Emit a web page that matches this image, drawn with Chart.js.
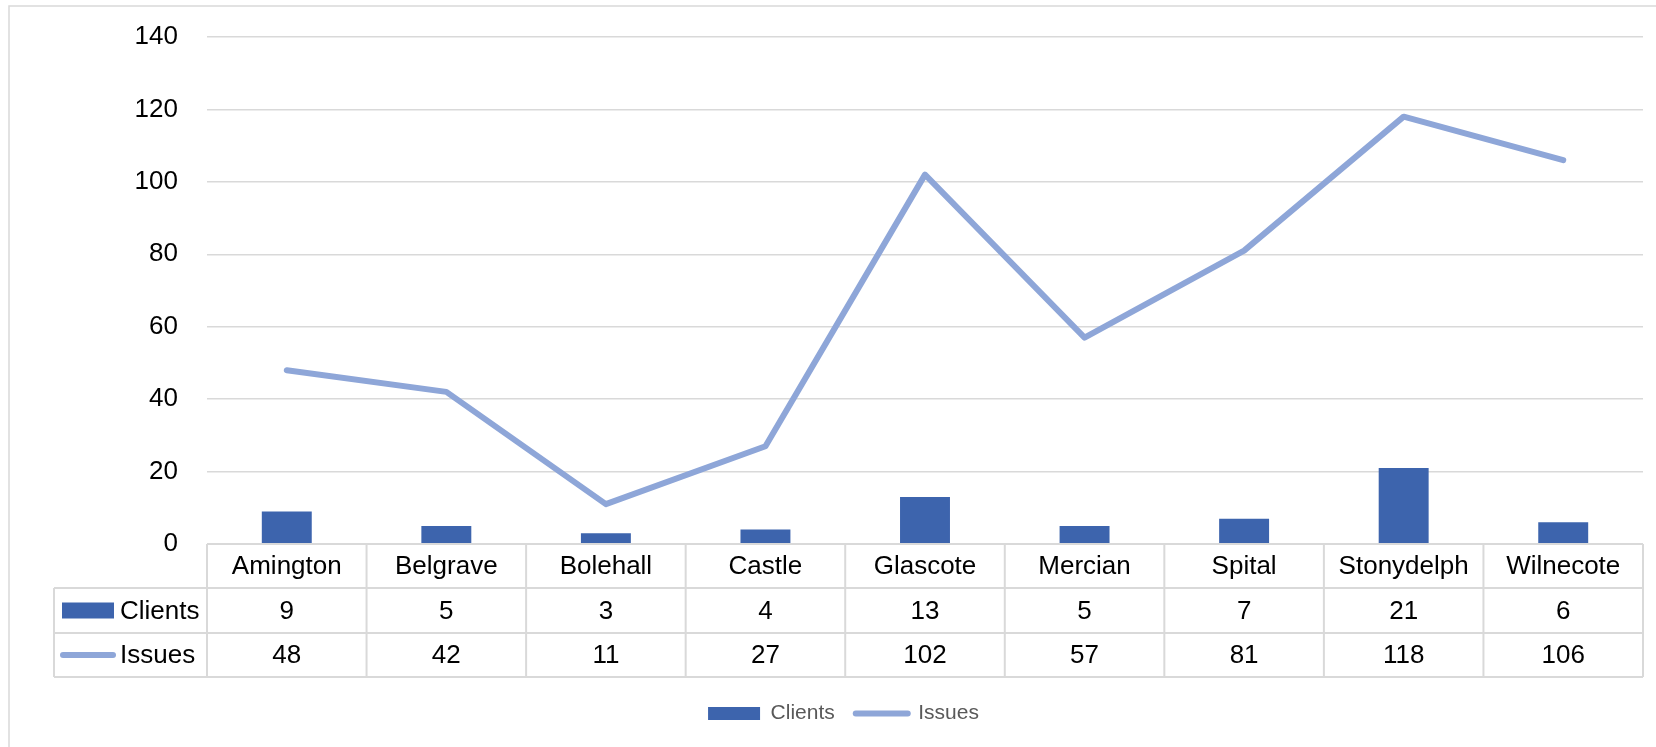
<!DOCTYPE html>
<html>
<head>
<meta charset="utf-8">
<script src="https://cdn.jsdelivr.net/npm/chart.js@4/dist/chart.umd.min.js"></script>
<style>
  body { margin: 0; background: #fff; }
</style>
</head>
<body>
<canvas id="chart" width="1656" height="747"></canvas>
<script>
const labels = ['Amington', 'Belgrave', 'Bolehall', 'Castle', 'Glascote', 'Mercian', 'Spital', 'Stonydelph', 'Wilnecote'];
const clients = [9, 5, 3, 4, 13, 5, 7, 21, 6];
const issues = [48, 42, 11, 27, 102, 57, 81, 118, 106];
const yTicks = [0, 20, 40, 60, 80, 100, 120, 140];

const barColor = '#3D64AD';
const lineColor = '#8EA6D8';
const gridColor = '#D9D9D9';
const fontFamily = "'Liberation Sans', Arial, sans-serif";

// outer frame, like the Excel chart border
const framePlugin = {
    id: 'frame',
    beforeDraw(chart) {
        const ctx = chart.ctx;
        ctx.save();
        ctx.fillStyle = '#fff';
        ctx.fillRect(0, 0, chart.width, chart.height);
        ctx.strokeStyle = gridColor;
        ctx.lineWidth = 1.5;
        ctx.strokeRect(9, 6, chart.width + 20, chart.height + 20);
        ctx.restore();
    },
    // legend sits a bit right of the canvas centre in the original
    afterLayout(chart) {
        chart.legend.left += 22;
        chart.legend.right += 22;
    }
};

// data table under the plot
const tablePlugin = {
    id: 'dataTable',
    afterDraw(chart) {
        const ctx = chart.ctx;
        const area = chart.chartArea;
        const x = chart.scales.x;
        const colW = (area.right - area.left) / labels.length;
        const top = area.bottom;
        const rowH = [44, 45, 44];
        const legendLeft = 54;
        const y1 = top + rowH[0];
        const y2 = y1 + rowH[1];
        const y3 = y2 + rowH[2];

        ctx.save();
        ctx.strokeStyle = gridColor;
        ctx.lineWidth = 2;
        ctx.beginPath();
        // horizontal lines
        ctx.moveTo(area.left, top); ctx.lineTo(area.right, top);
        ctx.moveTo(legendLeft, y1); ctx.lineTo(area.right, y1);
        ctx.moveTo(legendLeft, y2); ctx.lineTo(area.right, y2);
        ctx.moveTo(legendLeft, y3); ctx.lineTo(area.right, y3);
        // vertical lines
        ctx.moveTo(legendLeft, y1); ctx.lineTo(legendLeft, y3);
        for (let i = 0; i <= labels.length; i++) {
            const px = area.left + i * colW;
            ctx.moveTo(px, top); ctx.lineTo(px, y3);
        }
        ctx.stroke();

        ctx.font = '26px ' + fontFamily;
        ctx.fillStyle = '#000';
        ctx.textAlign = 'center';
        ctx.textBaseline = 'middle';
        labels.forEach((lab, i) => {
            const cx = x.getPixelForValue(i);
            ctx.fillText(lab, cx, top + rowH[0] / 2 + 1);
            ctx.fillText(String(clients[i]), cx, y1 + rowH[1] / 2 + 1);
            ctx.fillText(String(issues[i]), cx, y2 + rowH[2] / 2 + 1);
        });

        // series keys
        ctx.fillStyle = barColor;
        ctx.fillRect(62, y1 + rowH[1] / 2 - 8, 52, 16);
        ctx.strokeStyle = lineColor;
        ctx.lineWidth = 6;
        ctx.lineCap = 'round';
        ctx.beginPath();
        ctx.moveTo(63, y2 + rowH[2] / 2);
        ctx.lineTo(113, y2 + rowH[2] / 2);
        ctx.stroke();

        ctx.fillStyle = '#000';
        ctx.textAlign = 'left';
        ctx.fillText('Clients', 120, y1 + rowH[1] / 2 + 1);
        ctx.fillText('Issues', 120, y2 + rowH[2] / 2 + 1);
        ctx.restore();
    }
};

const data = {
    labels: labels,
    datasets: [{
        type: 'bar',
        label: 'Clients',
        data: clients,
        backgroundColor: barColor,
        borderWidth: 0,
        barPercentage: 0.313,
        categoryPercentage: 1,
        pointStyle: 'rect',
        order: 2
    }, {
        type: 'line',
        label: 'Issues',
        data: issues,
        borderColor: lineColor,
        backgroundColor: lineColor,
        borderWidth: 6,
        borderCapStyle: 'round',
        borderJoinStyle: 'round',
        pointRadius: 0,
        tension: 0,
        pointStyle: 'line',
        order: 1
    }]
};

const config = {
    data: data,
    plugins: [framePlugin, tablePlugin],
    options: {
        responsive: false,
        animation: false,
        layout: {
            padding: { top: 37, right: 13, bottom: 13, left: 0 }
        },
        plugins: {
            tooltip: { enabled: false },
            legend: {
                position: 'bottom',
                labels: {
                    usePointStyle: true,
                    pointStyleWidth: 52,
                    boxHeight: 13,
                    padding: 21,
                    color: '#595959',
                    font: { family: fontFamily, size: 21 },
                    generateLabels(chart) {
                        const items = Chart.defaults.plugins.legend.labels.generateLabels(chart);
                        items.forEach(it => {
                            if (it.text === 'Issues') {
                                it.lineWidth = 6;
                                it.lineCap = 'round';
                                it.strokeStyle = lineColor;
                            } else {
                                it.lineWidth = 0;
                            }
                        });
                        return items.sort((a, b) => a.datasetIndex - b.datasetIndex);
                    }
                }
            }
        },
        scales: {
            x: {
                ticks: { display: false },
                grid: { display: false },
                border: { display: false },
                afterFit(scale) { scale.height = 138; }
            },
            y: {
                min: 0,
                max: 140,
                afterBuildTicks(scale) { scale.ticks = yTicks.map(v => ({ value: v })); },
                ticks: {
                    padding: 29,
                    color: '#000',
                    font: { family: fontFamily, size: 26 }
                },
                grid: { color: gridColor, lineWidth: 1.5, drawTicks: false },
                border: { display: false },
                afterFit(scale) {
                    scale.width = 207;
                    scale.paddingTop = 0;
                    scale.paddingBottom = 0;
                }
            }
        }
    }
};

var chartElem = new Chart(
    document.getElementById('chart'),
    config
);
</script>
</body>
</html>
